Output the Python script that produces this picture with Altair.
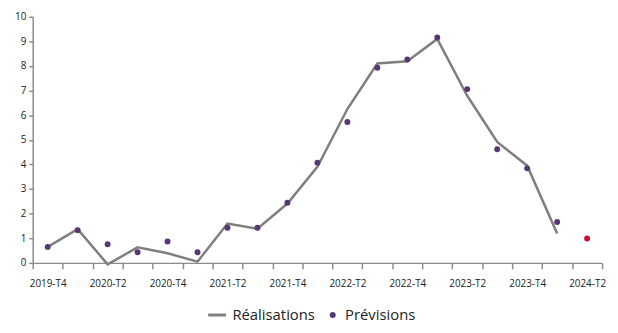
import altair as alt

quarters = ["2019-T4", "2020-T1", "2020-T2", "2020-T3", "2020-T4", "2021-T1", "2021-T2",
            "2021-T3", "2021-T4", "2022-T1", "2022-T2", "2022-T3", "2022-T4", "2023-T1",
            "2023-T2", "2023-T3", "2023-T4", "2024-T1", "2024-T2"]
realisations = [0.65, 1.37, -0.06, 0.63, 0.39, 0.05, 1.6, 1.39, 2.41, 3.9, 6.25, 8.1,
                8.19, 9.1, 6.79, 4.91, 3.95, 1.19]
previsions = [0.65, 1.33, 0.76, 0.43, 0.87, 0.43, 1.43, 1.43, 2.44, 4.07, 5.72, 7.93,
              8.26, 9.16, 7.06, 4.62, 3.84, 1.66]
derniere_prevision = [0.99]  # 2024-T2, drawn in red
y_ticks = list(range(0, 11))

series = ["Réalisations", "Prévisions"]
GRAY = "#7f7f7f"
PURPLE = "#563872"
RED = "#c8102e"
AXIS = "#8c8c8c"
LINE_SYMBOL = "M-4,-0.5L2,-0.5L2,0.5L-4,0.5Z"

line_vals = [{"q": q, "v": float(v)} for q, v in zip(quarters, realisations)]
pts_vals = [{"q": q, "v": float(v), "serie": "Prévisions"} for q, v in zip(quarters, previsions)]
red_vals = [{"q": q, "v": float(v)} for q, v in zip(quarters[len(previsions):], derniere_prevision)]

label_expr = ("(indexof(datum.value + '', 'T2') >= 0 || indexof(datum.value + '', 'T4') >= 0)"
              " ? datum.value : ''")

x_enc = alt.X("q:N", sort=quarters, bandPosition=0.5,
              scale=alt.Scale(type="band", domain=quarters, paddingInner=0, paddingOuter=0),
              axis=alt.Axis(title=None, labelAngle=0, tickBand="extent", tickSize=6,
                            labelExpr=label_expr, labelPadding=10, labelFontSize=10))
y_enc = alt.Y("v:Q", scale=alt.Scale(domain=[0, 10], nice=False),
              axis=alt.Axis(title=None, values=y_ticks, format="d", tickSize=4, grid=False,
                            labelFontSize=10, labelPadding=3))

line = alt.Chart(alt.Data(values=line_vals)).mark_line(color=GRAY, strokeWidth=2.5).encode(
    x=x_enc, y=y_enc)

pts = alt.Chart(alt.Data(values=pts_vals)).mark_point(filled=True, size=36, opacity=1).encode(
    x=x_enc, y=y_enc,
    color=alt.Color("serie:N", scale=alt.Scale(domain=series, range=[GRAY, PURPLE]),
                    legend=alt.Legend(title=None, orient="none", direction="horizontal",
                                      legendX=182, legendY=294, symbolSize=36,
                                      symbolOpacity=1, labelOffset=5, columnPadding=10,
                                      labelFontSize=15)),
    shape=alt.Shape("serie:N", scale=alt.Scale(domain=series, range=[LINE_SYMBOL, "circle"])),
)

red = alt.Chart(alt.Data(values=red_vals)).mark_point(filled=True, size=36, opacity=1,
                                                     color=RED, shape="circle").encode(
    x=x_enc, y=y_enc)

chart = alt.layer(line, pts, red).properties(
    width=576, height=249,
    autosize=alt.AutoSizeParams(type="none"),
    padding={"left": 25, "top": 7, "right": 8, "bottom": 61},
).configure_view(strokeWidth=0).configure_axis(
    domainColor=AXIS, tickColor=AXIS, domainWidth=1.5, tickWidth=1.5,
    labelColor="#222222", labelFont="Open Sans",
).configure_legend(
    labelFont="Open Sans", labelColor="#222222"
)

chart.save("out.html", embed_options={"renderer": "svg", "actions": False})
